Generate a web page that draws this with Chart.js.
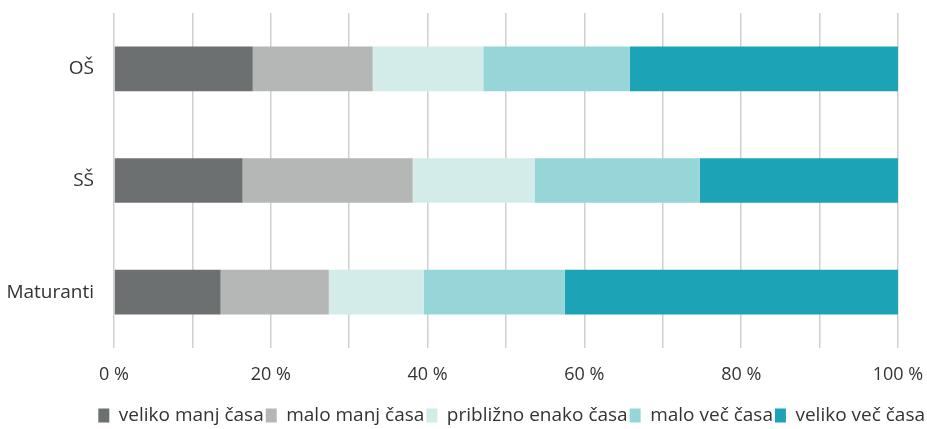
<!DOCTYPE html>
<html lang="sl">
  <head>
    <meta charset="UTF-8" />
    <title>Čas</title>
    <script src="https://cdn.jsdelivr.net/npm/chart.js"></script>
    <style>
      html, body { margin: 0; padding: 0; background: #fff; }
      #wrap { width: 927px; height: 429px; }
    </style>
  </head>
  <body>
    <div id="wrap"><canvas id="chart" width="927" height="429"></canvas></div>

    <script>
        const categories = ['OŠ', 'SŠ', 'Maturanti'];
        const seriesNames = ['veliko manj časa', 'malo manj časa', 'približno enako časa', 'malo več časa', 'veliko več časa'];
        const velikoManj = [17.7, 16.4, 13.6];
        const maloManj = [15.3, 21.7, 13.8];
        const priblizno = [14.1, 15.6, 12.1];
        const maloVec = [18.7, 21.0, 18.0];
        const velikoVec = [34.2, 25.3, 42.5];
        const colors = ['#6d7070', '#b4b7b6', '#d3ece9', '#96d6d8', '#1ca3b5'];

        const values = [velikoManj, maloManj, priblizno, maloVec, velikoVec];
        const family = '"Open Sans", sans-serif';

        new Chart(document.getElementById('chart'), {
            type: 'bar',
            data: {
                labels: categories,
                datasets: seriesNames.map((name, i) => ({
                    label: name,
                    data: values[i],
                    backgroundColor: colors[i],
                    borderWidth: 0,
                    barPercentage: 0.4,
                    categoryPercentage: 1
                }))
            },
            options: {
                indexAxis: 'y',
                responsive: false,
                animation: false,
                layout: { padding: { top: 13, right: 0, bottom: -6, left: 0 } },
                plugins: {
                    tooltip: { enabled: false },
                    legend: {
                        position: 'bottom',
                        align: 'end',
                        labels: {
                            font: { family: family, size: 19 },
                            color: '#333',
                            boxWidth: 11,
                            boxHeight: 14,
                            padding: 2
                        }
                    }
                },
                scales: {
                    x: {
                        stacked: true,
                        min: 0,
                        max: 100,
                        grid: { color: '#d0d0d0', lineWidth: 1.5, drawTicks: false },
                        border: { display: false },
                        ticks: {
                            stepSize: 10,
                            padding: 16,
                            font: { family: family, size: 18 },
                            color: '#333',
                            maxRotation: 0,
                            autoSkip: false,
                            callback: v => (v % 20 === 0 ? v + ' %' : '')
                        },
                        afterFit: scale => { scale.height = 56; scale.paddingRight = 29; }
                    },
                    y: {
                        stacked: true,
                        grid: { display: false, drawTicks: false },
                        border: { display: false },
                        ticks: { padding: 20, font: { family: family, size: 19 }, color: '#333' },
                        afterFit: scale => {
                            scale.width = 114;
                            scale.paddingTop = 0;
                            scale.paddingBottom = 0;
                        }
                    }
                }
            }
        });
    </script>
  </body>
</html>
